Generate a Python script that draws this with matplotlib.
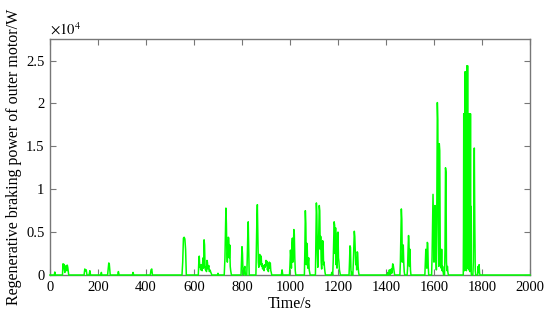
import numpy as np
import matplotlib
matplotlib.use("Agg")
import matplotlib.pyplot as plt
from matplotlib.ticker import FuncFormatter

plt.rcParams['font.family'] = ['Liberation Serif', 'DejaVu Serif']
plt.rcParams['mathtext.fontset'] = 'stix'

# regenerative braking power of the outer motor (W)
# 0 - 450 s
t_a = [0, 18, 20, 22, 52, 54, 56, 58, 60, 62, 64, 66, 68, 70, 72, 74, 76, 78,
       142, 145, 148, 151, 154, 163, 166, 169, 212, 214, 216,
       240, 243, 245, 247, 249, 251, 282, 285, 288, 343, 346, 349,
       418, 421, 424, 427]
p_a = [0, 0, 350, 0, 0, 1300, 900, 1250, 600, 300, 1000, 700, 1100, 500, 1150, 900, 400, 0,
       0, 700, 500, 600, 0, 0, 500, 0, 0, 300, 0,
       0, 800, 1400, 1300, 700, 0, 0, 400, 0, 0, 300, 0,
       0, 600, 700, 0]

# 540 - 710 s
t_b = [550, 553, 556, 559, 562, 565, 568,
       618, 620, 622, 624, 626, 628, 630, 632, 634, 636, 638, 640, 642, 644, 646, 648,
       650, 652, 654, 656, 658, 660, 662, 664, 666, 668, 670, 672, 674,
       698, 700, 702]
p_b = [0, 1500, 4300, 4400, 4200, 3000, 0,
       0, 1500, 2200, 900, 1100, 600, 1200, 1000, 500, 1400, 2000, 800, 4100, 3500, 1000, 600,
       900, 400, 1700, 1500, 700, 1000, 1100, 400, 600, 500, 300, 200, 0,
       0, 200, 0]

# 720 - 930 s
t_c = [726, 729, 731, 733, 735, 737, 739, 741, 743, 745, 747, 749, 751, 753, 756,
       796, 798, 800, 802, 804, 806, 808, 810, 812, 814, 820, 822, 824, 826, 828, 830,
       858, 860, 862, 864, 866, 868, 870, 872, 874, 876, 878, 880, 882, 884, 886, 888, 890, 892,
       894, 896, 898, 900, 902, 904, 906, 908, 910, 912, 914, 916, 918, 920, 922, 924, 926]
p_c = [0, 2000, 5000, 7800, 6000, 2500, 1500, 3000, 4400, 4300, 2000, 3500, 1000, 500, 0,
       0, 1500, 3300, 2500, 600, 0, 300, 800, 1000, 0, 0, 2000, 4500, 6200, 3000, 0,
       0, 3000, 6500, 8200, 5000, 1500, 900, 2000, 2400, 1200, 1800, 2200, 1000, 1300, 700, 1100, 1000, 500,
       1200, 900, 1000, 1700, 1200, 1600, 600, 1000, 400, 1300, 1500, 800, 1400, 500, 300, 0, 0]

# 960 - 1300 s
t_d = [964, 967, 970,
       998, 1000, 1002, 1004, 1006, 1008, 1010, 1012, 1014, 1016, 1018, 1020, 1022, 1024,
       1060, 1062, 1064, 1066, 1068, 1070, 1072, 1074, 1076, 1078, 1080, 1082, 1084,
       1106, 1108, 1110, 1112, 1114, 1116, 1118, 1120, 1122, 1124, 1126, 1128, 1130, 1132,
       1134, 1136, 1138, 1140, 1142, 1144, 1146, 1148,
       1172, 1174, 1176, 1178, 1180, 1182, 1184, 1186, 1188, 1190, 1192, 1194, 1196, 1198,
       1200, 1202, 1204, 1206, 1208, 1210,
       1246, 1248, 1250, 1252, 1254, 1256, 1258, 1260, 1262, 1264, 1266, 1268, 1270, 1272,
       1274, 1276, 1278, 1280, 1282, 1284, 1286, 1288]
p_d = [0, 600, 0,
       0, 1200, 2900, 2000, 800, 3500, 4300, 1500, 2500, 5300, 4800, 2000, 500, 0,
       0, 3000, 7500, 6000, 1200, 3700, 3000, 800, 1500, 2000, 600, 300, 0,
       0, 4000, 8400, 7000, 2500, 900, 3000, 5000, 8100, 7500, 3000, 4500, 1500, 700,
       2500, 4000, 3800, 1200, 1500, 800, 300, 0,
       0, 300, 200, 0, 1500, 4000, 6200, 5800, 2500, 5500, 1200, 3000, 800, 4900,
       5000, 2000, 1500, 600, 300, 0,
       0, 1500, 3400, 3200, 600, 0, 300, 0, 0, 1500, 3500, 5100, 4500, 3000,
       1200, 2000, 600, 2700, 2600, 1000, 300, 0]

# 1400 - 1510 s
t_e = [1405, 1408, 1410, 1412, 1414, 1416, 1418, 1420, 1422, 1424, 1426, 1428, 1430, 1432, 1434, 1436,
       1458, 1460, 1462, 1464, 1466, 1468, 1470, 1472, 1474, 1476, 1478,
       1488, 1490, 1492, 1494, 1496, 1498, 1500, 1502, 1504]
p_e = [0, 300, 0, 200, 600, 300, 0, 500, 700, 200, 600, 1300, 1200, 800, 400, 0,
       0, 1500, 5000, 7700, 6500, 1500, 2800, 3500, 1500, 400, 0,
       0, 800, 3000, 4600, 3500, 1000, 3000, 600, 0]

# 1560 - 1660 s
t_f = [1562, 1564, 1566, 1568, 1570, 1572, 1574, 1576, 1578,
       1590, 1592, 1594, 1596, 1598, 1600, 1602, 1604, 1606, 1608, 1610, 1612, 1614,
       1616, 1618, 1620, 1622, 1624, 1626, 1628, 1630, 1632, 1634, 1636, 1638, 1640,
       1644, 1646, 1648, 1650, 1652, 1654, 1656, 1658, 1660]
p_f = [0, 1500, 3000, 2500, 800, 3800, 3700, 1000, 0,
       0, 2000, 6000, 9400, 5000, 1500, 3000, 8100, 7000, 2500, 600, 9000, 20100,
       18000, 6000, 1000, 15300, 14500, 3000, 1500, 800, 3000, 500, 1000, 400, 0,
       0, 3000, 12500, 12000, 1500, 500, 1000, 300, 0]

# 1720 - 2000 s
t_g = [1722, 1723, 1724, 1725, 1726, 1727, 1728, 1729, 1730, 1731, 1732, 1733, 1734, 1735,
       1736, 1737, 1738, 1739, 1740, 1741, 1742, 1743, 1744, 1745, 1746, 1747, 1748, 1749,
       1750, 1751, 1752, 1753, 1754, 1755, 1756,
       1762, 1764, 1766, 1768, 1770, 1772, 1774,
       1782, 1784, 1786, 1788, 1790, 1792, 2000]
p_g = [0, 5000, 18800, 2000, 18800, 500, 18800, 1000, 23700, 3000, 23700, 1500, 18800, 500,
       18800, 2000, 24400, 800, 24400, 1000, 18800, 3000, 18800, 600, 18800, 1500, 18800, 400,
       18800, 1200, 18800, 600, 8000, 300, 0,
       0, 1500, 8000, 14800, 6000, 500, 0,
       0, 1000, 300, 1200, 200, 0, 0]

time_s = np.concatenate([t_a, t_b, t_c, t_d, t_e, t_f, t_g])
power_w = np.concatenate([p_a, p_b, p_c, p_d, p_e, p_f, p_g])

fig = plt.figure(figsize=(5.5, 3.23), dpi=100)
ax = fig.add_axes([0.0909, 0.1486, 0.8727, 0.7304])

ax.plot(time_s, power_w, color='#00ff00', lw=1.1, zorder=3, clip_on=False)

ax.set_xlim(0, 2000)
ax.set_ylim(0, 27500)
ax.set_xticks(np.arange(0, 2001, 200))
ax.set_yticks(np.arange(0, 25001, 5000))
ax.yaxis.set_major_formatter(FuncFormatter(lambda v, pos: '%g' % (v / 1e4)))

ax.tick_params(direction='in', length=4, width=0.8, color='#777777',
               top=True, right=True, labelsize=10.5, pad=4)
for s in ax.spines.values():
    s.set_color('#777777')
    s.set_linewidth(1.0)

ax.text(0.0, 1.008, r'$\times10^4$', transform=ax.transAxes, ha='left', va='bottom', fontsize=10.5)

ax.set_xlabel('Time/s', fontsize=11.5, labelpad=2)
ax.set_ylabel('Regenerative braking power of outer motor/W', fontsize=11.5, labelpad=3)

fig.savefig('out.png', dpi=100)
